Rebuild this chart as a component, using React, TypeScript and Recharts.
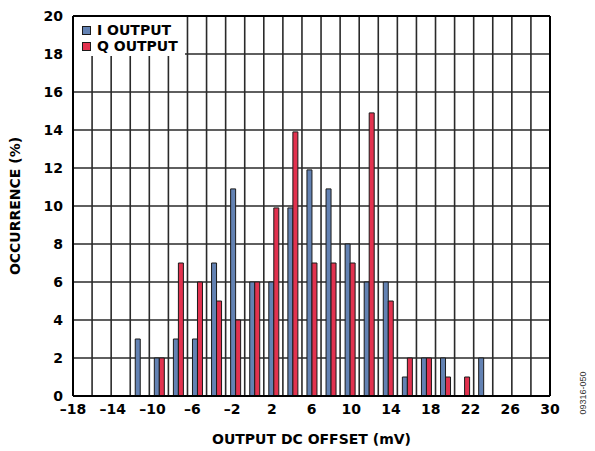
import React from 'react'
import {
  ComposedChart,
  Bar,
  XAxis,
  YAxis,
  CartesianGrid,
  ReferenceLine,
  Legend,
  Label,
} from 'recharts'

// histogram bins (columns of the plot)
const BINS = [
  'b0', 'b1', 'b2', 'b3', 'b4', 'b5', 'b6', 'b7', 'b8', 'b9', 'b10', 'b11', 'b12',
  'b13', 'b14', 'b15', 'b16', 'b17', 'b18', 'b19', 'b20', 'b21', 'b22', 'b23', 'b24',
]
const I_OUTPUT = [0, 0, 0, 3, 2, 3, 3, 7, 10.9, 6, 6, 9.9, 11.9, 10.9, 8, 6, 6, 1, 2, 2, 0, 2, 0, 0, 0]
const Q_OUTPUT = [0, 0, 0, 0, 2, 7, 6, 5, 4, 6, 9.9, 13.9, 7, 7, 7, 14.9, 5, 2, 2, 1, 1, 0, 0, 0, 0]

const X_TICKS = [-18, -14, -10, -6, -2, 2, 6, 10, 14, 18, 22, 26, 30]
const Y_TICKS = [0, 2, 4, 6, 8, 10, 12, 14, 16, 18, 20]

const I_COLOR = '#6382b3'
const Q_COLOR = '#e2324f'
const EDGE = '#1a1a1a'
const GRID = '#2a2a2a'
const FONT = '"DejaVu Sans", Arial, sans-serif'

const data = BINS.map((bin, i) => ({ bin, i: I_OUTPUT[i], q: Q_OUTPUT[i] }))
const gridCols = BINS.map((_, i) => i).concat(BINS.length)

const tickStyle = { fill: '#000', fontSize: 14, fontWeight: 'bold' as const, fontFamily: FONT }

function LegendBox() {
  const items = [
    { name: 'I OUTPUT', color: I_COLOR },
    { name: 'Q OUTPUT', color: Q_COLOR },
  ]
  return (
    <div style={{ background: '#fff', width: 111, height: 39, paddingTop: 5, paddingLeft: 8, boxSizing: 'border-box' }}>
      {items.map((it) => (
        <div key={it.name} style={{ display: 'flex', alignItems: 'center', height: 16 }}>
          <span style={{ width: 7, height: 7, background: it.color, border: `1px solid ${EDGE}`, marginRight: 6 }} />
          <span style={{ fontFamily: FONT, fontWeight: 'bold', fontSize: 14, color: '#000', lineHeight: '16px' }}>
            {it.name}
          </span>
        </div>
      ))}
    </div>
  )
}

export default function App() {
  return (
    <div style={{ position: 'absolute', left: 0, top: 0, width: 595, height: 451, background: '#fff' }}>
      <ComposedChart
        width={595}
        height={451}
        data={data}
        margin={{ top: 16, right: 45, left: 0, bottom: 0 }}
        barGap={0}
        barSize={5}
      >
        <CartesianGrid xAxisId="mv" vertical={false} stroke={GRID} strokeWidth={1.6} />
        <XAxis xAxisId="cat" dataKey="bin" type="category" hide height={0} />
        <XAxis xAxisId="grid" dataKey="none" type="number" domain={[0, 25]} allowDataOverflow hide height={0} />
        <XAxis
          xAxisId="mv"
          dataKey="none"
          type="number"
          domain={[-18, 30]}
          ticks={X_TICKS}
          interval={0}
          allowDataOverflow
          height={55}
          axisLine={{ stroke: '#000', strokeWidth: 2 }}
          tickLine={false}
          tick={tickStyle}
          tickFormatter={(v: number) => (v < 0 ? `\u2013${-v}` : `${v}`)}
        >
          <Label
            value="OUTPUT DC OFFSET (mV)"
            position="insideBottom"
            offset={7}
            style={{ fill: '#000', fontSize: 14, fontWeight: 'bold', fontFamily: FONT }}
          />
        </XAxis>
        <YAxis
          domain={[0, 20]}
          ticks={Y_TICKS}
          interval={0}
          width={73}
          axisLine={{ stroke: '#000', strokeWidth: 2 }}
          tickLine={false}
          tickMargin={4}
          tick={tickStyle}
        >
          <Label
            value="OCCURRENCE (%)"
            angle={-90}
            position="insideLeft"
            offset={15}
            style={{ fill: '#000', fontSize: 14, fontWeight: 'bold', fontFamily: FONT, textAnchor: 'middle' }}
          />
        </YAxis>
        {gridCols.map((c) => (
          <ReferenceLine
            key={c}
            xAxisId="grid"
            x={c}
            stroke={c === 0 || c === 25 ? '#000' : GRID}
            strokeWidth={c === 0 || c === 25 ? 2 : 1.6}
          />
        ))}
        <ReferenceLine xAxisId="grid" y={20} stroke="#000" strokeWidth={2} />
        <Bar xAxisId="cat" dataKey="i" name="I OUTPUT" fill={I_COLOR} stroke={EDGE} strokeWidth={1} isAnimationActive={false} />
        <Bar xAxisId="cat" dataKey="q" name="Q OUTPUT" fill={Q_COLOR} stroke={EDGE} strokeWidth={1} isAnimationActive={false} />
        <Legend
          layout="horizontal"
          verticalAlign="middle"
          align="center"
          content={<LegendBox />}
          wrapperStyle={{ position: 'absolute', left: 74, top: 17, width: 111, height: 39 }}
        />
      </ComposedChart>
      <div
        style={{
          position: 'absolute',
          left: 583,
          top: 393,
          transform: 'translate(-50%, -50%) rotate(-90deg)',
          fontFamily: 'Arial, "Liberation Sans", sans-serif',
          fontSize: 9,
          color: '#333',
          whiteSpace: 'nowrap',
        }}
      >
        09316-050
      </div>
    </div>
  )
}
